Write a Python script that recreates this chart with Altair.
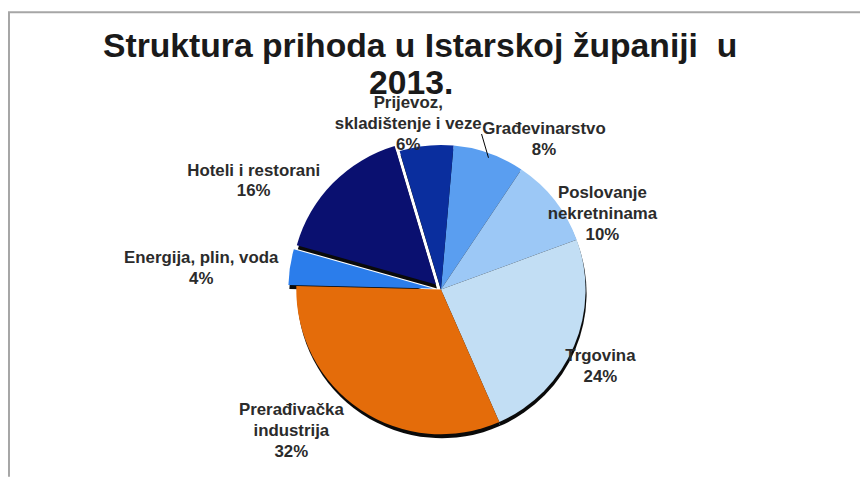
import altair as alt
import pandas as pd

# ---- data (clockwise from the top) ----
categories = ["Građevinarstvo", "Poslovanje\nnekretninama", "Trgovina",
              "Prerađivačka\nindustrija", "Energija, plin, voda",
              "Hoteli i restorani", "Prijevoz,\nskladištenje i veze"]
keys = ["grad", "posl", "trg", "prer", "energ", "hotel", "prij"]
values = [8, 10, 24, 32, 4, 16, 6]
colors = ["#5A9EF0", "#9CC8F6", "#C2DEF4", "#E46C0A", "#2B7DEB", "#0A1070", "#0A2E9E"]

# label anchor (chart px: centre x, top y) -- layout, separate from data
label_x = [541, 600, 598, 286, 195, 248, 404]
label_y = [112, 177, 341, 396, 242, 154, 86]

df = pd.DataFrame({"key": keys, "cat": categories, "value": values})
df["end"] = df["value"].cumsum()
df["start"] = df["end"] - df["value"]
df["label"] = df["cat"] + "\n" + df["value"].astype(str) + "%"
df["lx"] = label_x
df["ly"] = label_y

W, H = 860, 471
CX, CY, R = 437, 282, 146
START = 0.0873  # ~5 degrees
theta_scale = alt.Scale(domain=[0, 100], range=[START, START + 6.28319])
color_scale = alt.Scale(domain=keys, range=colors)

base = alt.Chart(df)

explode = {"hotel": (-5, -5), "energ": (-8, -1)}


def arcs(keys_sel, dx, dy, shadow=False):
    ch = base.transform_filter(alt.FieldOneOfPredicate(field="key", oneOf=keys_sel))
    if shadow:
        m = ch.mark_arc(radius=R, color="#0a0a0a", strokeWidth=0)
        return m.encode(
            theta=alt.Theta("start:Q", scale=theta_scale),
            theta2="end:Q",
            x=alt.value(CX + dx + 1), y=alt.value(CY + dy + 4),
        )
    return ch.mark_arc(radius=R, strokeWidth=0).encode(
        theta=alt.Theta("start:Q", scale=theta_scale),
        theta2="end:Q",
        color=alt.Color("key:N", scale=color_scale, legend=None),
        x=alt.value(CX + dx), y=alt.value(CY + dy),
    )


normal = [k for k in keys if k not in explode]
layers = [arcs(normal, 0, 0, shadow=True)]
for k, (dx, dy) in explode.items():
    layers.append(arcs([k], dx, dy, shadow=True))
layers.append(arcs(normal, 0, 0))
for k, (dx, dy) in explode.items():
    layers.append(arcs([k], dx, dy))

labels = base.mark_text(
    font="Liberation Sans", fontSize=17, fontWeight="bold", color="#2b2b2b",
    align="center", baseline="top", lineBreak="\n", lineHeight=21,
).encode(
    x=alt.X("lx:Q", scale=None), y=alt.Y("ly:Q", scale=None), text="label:N"
)

leader = base.mark_rule(color="#000000", strokeWidth=1).encode(
    x=alt.value(478), y=alt.value(125), x2=alt.value(485), y2=alt.value(149)
).transform_filter(alt.datum.key == "grad")

title_font = "Liberation Sans"
title1 = base.mark_text(
    font=title_font, fontSize=34, fontWeight="bold", color="#1a1a1a",
    align="center", baseline="alphabetic",
).encode(x=alt.value(416), y=alt.value(47),
         text=alt.value("Struktura prihoda u Istarskoj županiji\u00a0 u")
         ).transform_filter(alt.datum.key == "grad")
title2 = base.mark_text(
    font=title_font, fontSize=34, fontWeight="bold", color="#1a1a1a",
    align="center", baseline="alphabetic",
).encode(x=alt.value(407), y=alt.value(85), text=alt.value("2013.")
         ).transform_filter(alt.datum.key == "grad")

border_top = base.mark_rule(color="#A6A6A6", strokeWidth=2).encode(
    x=alt.value(0), x2=alt.value(W), y=alt.value(2)
).transform_filter(alt.datum.key == "grad")
border_left = base.mark_rule(color="#A6A6A6", strokeWidth=2).encode(
    x=alt.value(1), y=alt.value(2), y2=alt.value(H)
).transform_filter(alt.datum.key == "grad")

chart = alt.layer(
    border_top, border_left, *layers, leader, labels, title1, title2
).properties(
    width=W, height=H, autosize=alt.AutoSizeParams(type="none"), padding=0,
    background="white",
).configure_view(stroke=None)

chart.save("out.html", embed_options={"renderer": "svg", "actions": False})
